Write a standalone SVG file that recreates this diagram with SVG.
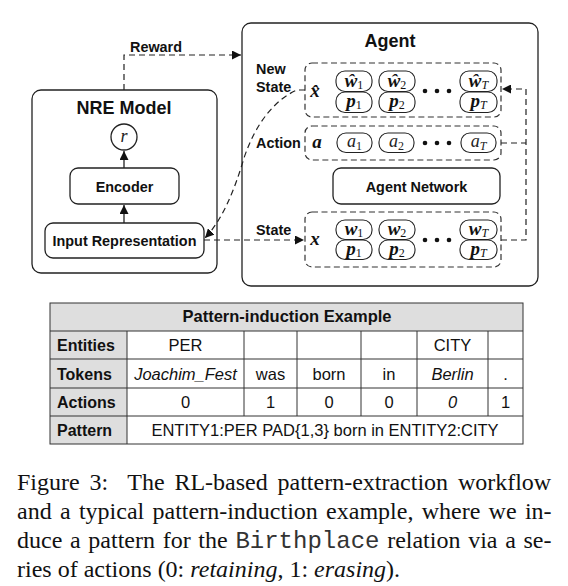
<svg xmlns="http://www.w3.org/2000/svg" width="568" height="586" viewBox="0 0 568 586">
<defs>
<style>
.box{fill:#fff;stroke:#222;stroke-width:1.3}
.dbox{fill:#fff;stroke:#333;stroke-width:1.2;stroke-dasharray:6 3.5}
.pill{fill:#fff;stroke:#222;stroke-width:1.1}
.dl{fill:none;stroke:#222;stroke-width:1.2;stroke-dasharray:6 4}
.sl{fill:none;stroke:#222;stroke-width:1.3}
.lbl{font-family:"Liberation Sans",Arial,sans-serif;font-weight:bold;font-size:14.4px;fill:#111}
.ttl{font-family:"Liberation Sans",Arial,sans-serif;font-weight:bold;font-size:18px;fill:#111}
.m{font-family:"Liberation Serif","DejaVu Serif",serif;font-style:italic;font-weight:bold;font-size:19px;fill:#111}
.mi{font-family:"Liberation Serif","DejaVu Serif",serif;font-style:italic;font-size:18px;fill:#222}
.sub{font-size:12px;font-weight:normal;font-style:normal}
.subi{font-size:12px;font-weight:normal;font-style:italic}
.dot{fill:#111}
.tc{font-family:"Liberation Sans",Arial,sans-serif;font-size:16.5px;fill:#111;text-anchor:middle}
.tb{font-family:"Liberation Sans",Arial,sans-serif;font-size:16px;font-weight:bold;fill:#111}
.grid{stroke:#333;stroke-width:1;fill:none}
.cap{font-family:"Liberation Serif","Times New Roman",serif;font-size:24px;fill:#111}
.mono{font-family:"Liberation Mono","Courier New",monospace;fill:#333}
</style>
<marker id="ah" viewBox="0 0 10 10" refX="10" refY="5" markerWidth="9" markerHeight="9" markerUnits="userSpaceOnUse" orient="auto">
<path d="M0,0 L10,5 L0,10 z" fill="#111"/>
</marker>
</defs>
<rect width="568" height="586" fill="#fff"/>

<g id="nre-model">
<rect class="box" x="32" y="90" width="185" height="183" rx="9"/>
<text class="ttl" x="124" y="114" text-anchor="middle">NRE Model</text>
</g>
<g id="r-node">
<circle class="box" cx="124" cy="137" r="13"/>
<text class="mi" x="124" y="142" text-anchor="middle">r</text>
</g>
<g id="encoder">
<rect class="box" x="70" y="168" width="109" height="36" rx="8"/>
<text class="lbl" x="124.5" y="191.5" text-anchor="middle">Encoder</text>
</g>
<g id="input-representation">
<rect class="box" x="45" y="223" width="159" height="35" rx="8"/>
<text class="lbl" x="124.5" y="246" text-anchor="middle">Input Representation</text>
</g>

<g id="agent">
<rect class="box" x="242" y="23" width="296" height="263" rx="9"/>
<text class="ttl" x="390" y="47" text-anchor="middle">Agent</text>
</g>

<g id="new-state">
<text class="lbl" x="256" y="74">New</text>
<text class="lbl" x="256" y="92">State</text>
<rect class="dbox" x="305" y="63" width="196" height="54" rx="7"/>
<text class="m" x="315" y="97" text-anchor="middle">x̂</text>
<rect class="pill" x="336" y="71" width="36" height="20.5" rx="9"/>
<rect class="pill" x="336" y="92" width="36" height="20.5" rx="9"/>
<rect class="pill" x="379" y="71" width="36" height="20.5" rx="9"/>
<rect class="pill" x="379" y="92" width="36" height="20.5" rx="9"/>
<rect class="pill" x="460" y="71" width="37" height="20.5" rx="9"/>
<rect class="pill" x="460" y="92" width="37" height="20.5" rx="9"/>
<text class="m" x="354" y="86.5" text-anchor="middle">ŵ<tspan class="sub" dy="2.5">1</tspan></text>
<text class="m" x="354" y="106.5" text-anchor="middle">p<tspan class="sub" dy="2.5">1</tspan></text>
<text class="m" x="397" y="86.5" text-anchor="middle">ŵ<tspan class="sub" dy="2.5">2</tspan></text>
<text class="m" x="397" y="106.5" text-anchor="middle">p<tspan class="sub" dy="2.5">2</tspan></text>
<text class="m" x="478.5" y="86.5" text-anchor="middle">ŵ<tspan class="subi" dy="2.5">T</tspan></text>
<text class="m" x="478.5" y="106.5" text-anchor="middle">p<tspan class="subi" dy="2.5">T</tspan></text>
<circle class="dot" cx="425" cy="91" r="2.3"/>
<circle class="dot" cx="437" cy="91" r="2.3"/>
<circle class="dot" cx="449" cy="91" r="2.3"/>
</g>

<g id="action">
<text class="lbl" x="256" y="148">Action</text>
<rect class="dbox" x="305" y="126" width="196" height="34" rx="7"/>
<text class="m" x="317" y="148" text-anchor="middle">a</text>
<rect class="pill" x="337" y="133" width="35" height="19.5" rx="9"/>
<rect class="pill" x="379" y="133" width="35" height="19.5" rx="9"/>
<rect class="pill" x="461" y="133" width="35" height="19.5" rx="9"/>
<text class="mi" x="354.5" y="147" text-anchor="middle">a<tspan class="sub" dy="2.5">1</tspan></text>
<text class="mi" x="396.5" y="147" text-anchor="middle">a<tspan class="sub" dy="2.5">2</tspan></text>
<text class="mi" x="478.5" y="147" text-anchor="middle">a<tspan class="subi" dy="2.5">T</tspan></text>
<circle class="dot" cx="425" cy="143" r="2.3"/>
<circle class="dot" cx="437" cy="143" r="2.3"/>
<circle class="dot" cx="449" cy="143" r="2.3"/>
</g>

<g id="agent-network">
<rect class="box" x="333" y="168" width="167" height="36" rx="8"/>
<text class="lbl" x="416.5" y="191.5" text-anchor="middle">Agent Network</text>
</g>

<g id="state">
<text class="lbl" x="256" y="235">State</text>
<rect class="dbox" x="305" y="212" width="196" height="55" rx="7"/>
<text class="m" x="315" y="245" text-anchor="middle">x</text>
<rect class="pill" x="336" y="220" width="36" height="19.5" rx="9"/>
<rect class="pill" x="336" y="240" width="36" height="19.5" rx="9"/>
<rect class="pill" x="379" y="220" width="36" height="19.5" rx="9"/>
<rect class="pill" x="379" y="240" width="36" height="19.5" rx="9"/>
<rect class="pill" x="460" y="220" width="37" height="19.5" rx="9"/>
<rect class="pill" x="460" y="240" width="37" height="19.5" rx="9"/>
<text class="m" x="354" y="234.5" text-anchor="middle">w<tspan class="sub" dy="2.5">1</tspan></text>
<text class="m" x="354" y="254.5" text-anchor="middle">p<tspan class="sub" dy="2.5">1</tspan></text>
<text class="m" x="397" y="234.5" text-anchor="middle">w<tspan class="sub" dy="2.5">2</tspan></text>
<text class="m" x="397" y="254.5" text-anchor="middle">p<tspan class="sub" dy="2.5">2</tspan></text>
<text class="m" x="478.5" y="234.5" text-anchor="middle">w<tspan class="subi" dy="2.5">T</tspan></text>
<text class="m" x="478.5" y="254.5" text-anchor="middle">p<tspan class="subi" dy="2.5">T</tspan></text>
<circle class="dot" cx="425" cy="240" r="2.3"/>
<circle class="dot" cx="437" cy="240" r="2.3"/>
<circle class="dot" cx="449" cy="240" r="2.3"/>
</g>

<g id="connectors">
<path class="sl" d="M124,223 L124,205" marker-end="url(#ah)"/>
<path class="sl" d="M124,168 L124,151" marker-end="url(#ah)"/>
<path class="dl" d="M124,90 L124,55 L241,55" marker-end="url(#ah)"/>
<text class="lbl" x="130" y="52">Reward</text>
<path class="dl" d="M204,240 L304,240" marker-end="url(#ah)"/>
<path class="dl" d="M501,240 L526,240 L526,89 L502,89" marker-end="url(#ah)"/>
<path class="dl" d="M501,143 L526,143"/>
<path class="dl" d="M305,90 L297,90 C276,99 256,122 244,158 C234,192 222,220 205,238" marker-end="url(#ah)"/>
</g>

<g id="table">
<rect x="50" y="303" width="473" height="28" fill="#dedede"/>
<rect x="50" y="331" width="77" height="113" fill="#dedede"/>
<rect class="grid" x="50" y="303" width="473" height="141"/>
<path class="grid" d="M50,331H523M50,359H523M50,388H523M50,416H523M127,331V444M244,331V416M297,331V416M361,331V416M417,331V416M488,331V416"/>
<text class="tb" x="287" y="322" text-anchor="middle" style="font-size:16.5px">Pattern-induction Example</text>
<text class="tb" x="57" y="351">Entities</text>
<text class="tb" x="57" y="380">Tokens</text>
<text class="tb" x="57" y="408">Actions</text>
<text class="tb" x="57" y="436">Pattern</text>
<text class="tc" x="185.5" y="351">PER</text>
<text class="tc" x="452.5" y="351">CITY</text>
<text class="tc" x="185.5" y="380" font-style="italic">Joachim_Fest</text>
<text class="tc" x="270.5" y="380">was</text>
<text class="tc" x="329" y="380">born</text>
<text class="tc" x="389" y="380">in</text>
<text class="tc" x="452.5" y="380" font-style="italic">Berlin</text>
<text class="tc" x="505.5" y="380">.</text>
<text class="tc" x="185.5" y="408">0</text>
<text class="tc" x="270.5" y="408">1</text>
<text class="tc" x="329" y="408">0</text>
<text class="tc" x="389" y="408">0</text>
<text class="tc" x="452.5" y="408" font-style="italic">0</text>
<text class="tc" x="505.5" y="408">1</text>
<text class="tc" x="325" y="436">ENTITY1:PER PAD{1,3} born in ENTITY2:CITY</text>
</g>

<g id="caption">
<text class="cap" x="17" y="490" word-spacing="3.8">Figure 3:&#160; The RL-based pattern-extraction workflow</text>
<text class="cap" x="17" y="519" word-spacing="2.3">and a typical pattern-induction example, where we in-</text>
<text class="cap" x="17" y="548" word-spacing="1.7">duce a pattern for the <tspan class="mono">Birthplace</tspan> relation via a se-</text>
<text class="cap" x="17" y="577">ries of actions (0: <tspan font-style="italic">retaining</tspan>, 1: <tspan font-style="italic">erasing</tspan>).</text>
</g>
</svg>
